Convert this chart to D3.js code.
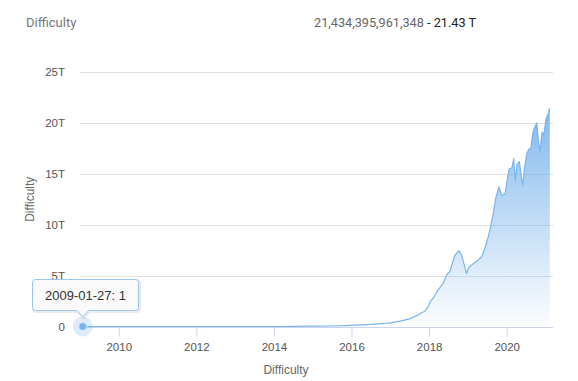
<!DOCTYPE html>
<html>
<head>
<meta charset="utf-8">
<script src="https://cdn.jsdelivr.net/npm/d3@7"></script>
<style>
  html, body { margin: 0; padding: 0; background: #fff; }
  svg { display: block; }
</style>
</head>
<body>
<svg id="chart" width="578" height="381"></svg>
<script>
// ---- data ----
const dates = [
  "2009-01-03","2009-01-27","2010-01-01","2011-01-01","2012-01-01","2013-01-01",
  "2014-01-01","2014-07-01","2015-01-01","2015-07-01","2016-01-01","2016-07-01",
  "2017-01-01","2017-04-01","2017-07-01","2017-09-20","2017-10-22","2017-11-21",
  "2017-12-23","2018-01-15","2018-02-08","2018-03-27","2018-05-13","2018-06-14",
  "2018-07-15","2018-08-12","2018-08-31","2018-10-08","2018-11-02","2018-11-24",
  "2018-12-19","2019-01-04","2019-02-05","2019-03-24","2019-05-10","2019-06-10",
  "2019-07-11","2019-07-27","2019-08-06","2019-08-27","2019-09-22","2019-10-20",
  "2019-11-13","2019-12-16","2020-01-01","2020-01-25","2020-02-20","2020-03-07",
  "2020-03-22","2020-04-07","2020-04-29","2020-05-18","2020-05-31","2020-06-16",
  "2020-07-08","2020-07-27","2020-08-15","2020-09-03","2020-09-18","2020-10-10",
  "2020-10-29","2020-11-10","2020-11-29","2020-12-15","2021-01-06","2021-01-25",
  "2021-02-10"
];
const difficultyT = [
  1e-12, 1e-12, 1.5e-9, 1.6e-8, 1.1e-6, 3.4e-6,
  0.0014, 0.017, 0.04, 0.05, 0.11, 0.2,
  0.35, 0.52, 0.75, 1.13, 1.35, 1.5,
  1.95, 2.5, 2.8, 3.6, 4.25, 5.06,
  5.4, 6.4, 7.0, 7.45, 7.0, 6.2,
  5.2, 5.7, 6.05, 6.4, 6.85, 7.7,
  8.8, 9.5, 10.0, 11.1, 12.7, 13.7,
  12.9, 13.0, 14.1, 15.5, 15.6, 16.5,
  14.3, 15.9, 16.2, 14.7, 13.9, 15.5,
  17.0, 17.4, 17.5, 19.0, 19.5, 20.0,
  18.0, 17.2, 19.1, 18.8, 20.4, 20.9,
  21.434395961348
];
const yTicksT = [0, 5, 10, 15, 20, 25];
const yTickLabels = ["0", "5T", "10T", "15T", "20T", "25T"];
const xTickYears = [2010, 2012, 2014, 2016, 2018, 2020];
const titleText = "Difficulty";
const headerValue = "21,434,395,961,348";
const headerShort = " - 21.43 T";
const tooltipDate = "2009-01-27";
const tooltipValue = "1";
const axisTitleY = "Difficulty";
const axisTitleX = "Difficulty";

// ---- build ----
const parse = d3.utcParse("%Y-%m-%d");
const data = dates.map((d, i) => ({ date: parse(d), v: difficultyT[i] * 1e12 }));

const svg = d3.select("#chart");
const plotL = 80, plotR = 553, plotT = 72, plotB = 326.5;

const x = d3.scaleUtc()
  .domain([parse("2009-01-01"), parse("2021-03-12")])
  .range([plotL, plotR]);
const y = d3.scaleLinear()
  .domain([0, 25e12])
  .range([plotB, plotT]);

const axisFont = "'Liberation Sans', Arial, Helvetica, sans-serif";

// header
svg.append("text").attr("x", 26).attr("y", 27)
  .attr("font-family", "Roboto, sans-serif").attr("font-size", 13)
  .attr("fill", "#777").text(titleText);
const hdr = svg.append("text").attr("x", 476).attr("y", 27)
  .attr("text-anchor", "end")
  .attr("font-family", "Roboto, sans-serif").attr("font-size", 12.7);
hdr.append("tspan").attr("fill", "#666").text(headerValue);
hdr.append("tspan").attr("fill", "#222").text(headerShort);

// gridlines
const gy = svg.append("g");
gy.selectAll("line").data(yTicksT).join("line")
  .attr("x1", plotL).attr("x2", plotR)
  .attr("y1", d => Math.round(y(d * 1e12)) + 0.5)
  .attr("y2", d => Math.round(y(d * 1e12)) + 0.5)
  .attr("stroke", d => d === 0 ? "#ccd6eb" : "#e0e0e0")
  .attr("stroke-width", 1);

// y labels
svg.append("g").selectAll("text").data(yTicksT).join("text")
  .attr("x", 65).attr("y", d => y(d * 1e12) + 4)
  .attr("text-anchor", "end")
  .attr("font-family", axisFont).attr("font-size", 11.5)
  .attr("fill", "#555")
  .text((d, i) => yTickLabels[i]);

// y axis title
svg.append("text")
  .attr("transform", `translate(34,${(plotT + plotB) / 2}) rotate(-90)`)
  .attr("text-anchor", "middle")
  .attr("font-family", axisFont).attr("font-size", 12)
  .attr("fill", "#666").text(axisTitleY);

// x axis
const xAxis = d3.axisBottom(x)
  .tickValues(xTickYears.map(yy => new Date(Date.UTC(yy, 0, 1))))
  .tickFormat(d3.utcFormat("%Y"))
  .tickSize(9).tickPadding(6);
const gx = svg.append("g").attr("transform", `translate(0,${Math.round(plotB) + 0.5})`).call(xAxis);
gx.select(".domain").remove();
gx.selectAll(".tick line").attr("stroke", "#ccd6eb");
gx.selectAll(".tick text").attr("font-family", axisFont).attr("font-size", 11.5)
  .attr("fill", "#555");

svg.append("text").attr("x", 286).attr("y", 374)
  .attr("text-anchor", "middle")
  .attr("font-family", axisFont).attr("font-size", 12)
  .attr("fill", "#666").text(axisTitleX);

// gradient
const defs = svg.append("defs");
const grad = defs.append("linearGradient").attr("id", "areaGrad")
  .attr("x1", 0).attr("y1", 0).attr("x2", 0).attr("y2", 1);
grad.append("stop").attr("offset", "0%").attr("stop-color", "#7cb5ec").attr("stop-opacity", 0.95);
grad.append("stop").attr("offset", "100%").attr("stop-color", "#7cb5ec").attr("stop-opacity", 0.02);

const area = d3.area().x(d => x(d.date)).y0(y(0)).y1(d => y(d.v));
const line = d3.line().x(d => x(d.date)).y(d => y(d.v));

svg.append("path").datum(data).attr("d", area).attr("fill", "url(#areaGrad)");
svg.append("path").datum(data).attr("d", line)
  .attr("fill", "none").attr("stroke", "#7cb5ec").attr("stroke-width", 1.2)
  .attr("stroke-linejoin", "round");

// hovered point
const hp = data[1];
const hx = x(hp.date), hy = y(hp.v);
svg.append("circle").attr("cx", hx).attr("cy", hy).attr("r", 10)
  .attr("fill", "#7cb5ec").attr("fill-opacity", 0.25);
svg.append("circle").attr("cx", hx).attr("cy", hy).attr("r", 4)
  .attr("fill", "#7cb5ec").attr("stroke", "#fff").attr("stroke-width", 0.5);

// tooltip
const tt = svg.append("g");
const bx = 32.5, by = 279.5, bw = 106, bh = 31;
const px = hx;
const tipPath = `M${bx + 3},${by} H${bx + bw - 3} Q${bx + bw},${by} ${bx + bw},${by + 3}
  V${by + bh - 3} Q${bx + bw},${by + bh} ${bx + bw - 3},${by + bh}
  H${px + 6} L${px},${by + bh + 6} L${px - 6},${by + bh}
  H${bx + 3} Q${bx},${by + bh} ${bx},${by + bh - 3} V${by + 3} Q${bx},${by} ${bx + 3},${by} Z`;
tt.append("path").attr("d", tipPath).attr("transform", "translate(1,1)")
  .attr("fill", "none").attr("stroke", "#000").attr("stroke-opacity", 0.08).attr("stroke-width", 3);
tt.append("path").attr("d", tipPath)
  .attr("fill", "#fafafa").attr("fill-opacity", 0.92)
  .attr("stroke", "#9cc5ee").attr("stroke-width", 1);
tt.append("text").attr("x", bx + bw / 2).attr("y", by + 20)
  .attr("text-anchor", "middle")
  .attr("font-family", axisFont).attr("font-size", 13)
  .attr("fill", "#333").text(`${tooltipDate}: ${tooltipValue}`);
</script>
</body>
</html>
